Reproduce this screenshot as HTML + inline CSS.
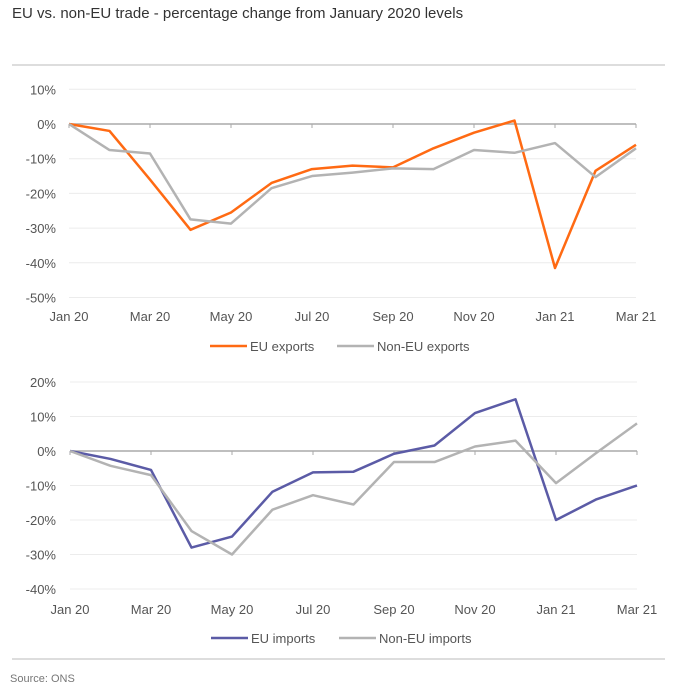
<!DOCTYPE html>
<html><head><meta charset="utf-8"><style>
body{margin:0;background:#fff;font-family:"Liberation Sans",sans-serif;}
#wrap{position:relative;width:697px;height:689px;overflow:hidden;}
.t{position:absolute;}
</style></head><body>
<div id="wrap">
<div class="t" style="left:12px;top:5px;font-size:15px;color:#333;">EU vs. non-EU trade - percentage change from January 2020 levels</div>
<div class="t" style="left:12px;top:64px;width:653px;height:2px;background:#ddd;"></div>
<div class="t" style="left:12px;top:658px;width:653px;height:2px;background:#ddd;"></div>
<div class="t" style="left:10px;top:673px;font-size:11px;color:#777;">Source: ONS</div>
<svg id="svg" width="697" height="689" style="position:absolute;left:0;top:0"></svg>
</div>
<script>
const months=["Jan 20","Feb 20","Mar 20","Apr 20","May 20","Jun 20","Jul 20","Aug 20","Sep 20","Oct 20","Nov 20","Dec 20","Jan 21","Feb 21","Mar 21"];
const euExports=[0,-2,-16,-30.5,-25.5,-17,-13,-12,-12.5,-7,-2.5,1,-41.5,-13.5,-6];
const nonEuExports=[0,-7.5,-8.5,-27.5,-28.7,-18.5,-15,-14,-12.8,-13,-7.5,-8.3,-5.5,-15.3,-7];
const euImports=[0,-2.3,-5.5,-28,-24.8,-11.8,-6.2,-6,-0.8,1.6,11,15,-20,-14,-10];
const nonEuImports=[0,-4.3,-7,-23.2,-30,-17,-12.8,-15.5,-3.2,-3.2,1.3,3,-9.3,-0.5,8];
const topTicks=[10,0,-10,-20,-30,-40,-50];
const botTicks=[20,10,0,-10,-20,-30,-40];
const NS="http://www.w3.org/2000/svg";
const svg=document.getElementById('svg');
function mk(tag,attrs,parent){const e=document.createElementNS(NS,tag);for(const k in attrs)e.setAttribute(k,attrs[k]);(parent||svg).appendChild(e);return e;}
function chart(cfg){
  const g=mk('g',{});
  
  
  const x=i=>cfg.x0+(cfg.x1-cfg.x0)*i/(months.length-1);
  const y=v=>cfg.yZero-(v)*cfg.pp;
  cfg.ticks.forEach(t=>{
    const l=mk('line',{x1:x(0),x2:x(months.length-1),y1:y(t),y2:y(t),stroke:t===0?'#aaa':'#ececec','stroke-width':t===0?1.5:1},g);
    
    
    const tx=mk('text',{x:56,y:y(t)+5,'text-anchor':'end','font-size':13,fill:'#555'},g);
    tx.textContent=t+'%';
    
    
  });
  months.forEach((m,i)=>{
    if(i%2===0){
      const tk=mk('line',{x1:x(i),x2:x(i),y1:y(0),y2:y(0)+4,stroke:'#aaa'},g);
      
      
      const tx=mk('text',{x:x(i),y:cfg.labelY,'text-anchor':'middle','font-size':13,fill:'#555'},g);
      tx.textContent=m;
      
      
    }
  });
  cfg.series.forEach(s=>{
    const p=mk('polyline',{points:s.data.map((v,i)=>x(i)+','+y(v)).join(' '),fill:'none',stroke:s.color,'stroke-width':2.5,'stroke-linejoin':'round'},g);
    
    
  });
  cfg.series.forEach((s,k)=>{
    const lx=cfg.legX[k];
    const ll=mk('line',{x1:lx,x2:lx+37,y1:cfg.legY,y2:cfg.legY,stroke:s.color,'stroke-width':2.5},g);
    
    
    const lt=mk('text',{x:lx+40,y:cfg.legY+5,'font-size':13,fill:'#555'},g);
    lt.textContent=s.label;
    
    
  });
}
chart({name:'exports-chart',x0:69,x1:636,yZero:124,pp:3.47,ticks:topTicks,labelY:321,legY:346,legX:[210,337],
  series:[{id:'eu-exports',label:'EU exports',data:euExports,color:'#ff6a13'},{id:'non-eu-exports',label:'Non-EU exports',data:nonEuExports,color:'#b3b3b3'}]});
chart({name:'imports-chart',x0:70,x1:637,yZero:451,pp:3.45,ticks:botTicks,labelY:614,legY:638,legX:[211,339],
  series:[{id:'eu-imports',label:'EU imports',data:euImports,color:'#5b5ba6'},{id:'non-eu-imports',label:'Non-EU imports',data:nonEuImports,color:'#b3b3b3'}]});
</script>
</body></html>
